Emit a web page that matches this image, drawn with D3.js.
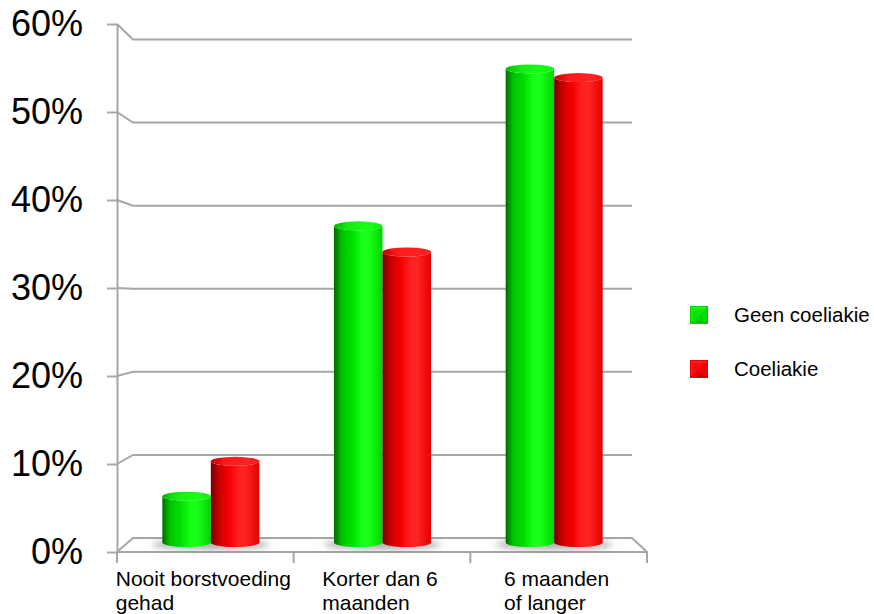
<!DOCTYPE html>
<html>
<head>
<meta charset="utf-8">
<script src="https://cdn.jsdelivr.net/npm/d3@7"></script>
<style>
  html, body { margin: 0; padding: 0; background: #fff; }
  svg { display: block; font-family: "Liberation Sans", Arial, sans-serif; }
</style>
</head>
<body>
<svg id="chart" width="874" height="614"></svg>
<script>
// Borstvoeding en coeliakie: percentage per duur van borstvoeding
const categories = ["Nooit borstvoeding\ngehad", "Korter dan 6\nmaanden", "6 maanden\nof langer"];
const seriesNames = ["Geen coeliakie", "Coeliakie"];
const geenCoeliakie = [6, 37, 55];
const coeliakie = [10, 34, 54];
const yTicks = [0, 10, 20, 30, 40, 50, 60];
const yTickLabels = ["0%", "10%", "20%", "30%", "40%", "50%", "60%"];

const seriesValues = [geenCoeliakie, coeliakie];
const palette = {
  "Geen coeliakie": { dark: "#006a00", mid: "#00c400", main: "#00e000", light: "#18ff18", edge: "#00d400", cap: "#14ec14", capDark: "#00b800" },
  "Coeliakie":      { dark: "#6e0000", mid: "#c80000", main: "#f40000", light: "#ff2222", edge: "#e40000", cap: "#ff1a1a", capDark: "#c00000" }
};

const svg = d3.select("#chart");
const defs = svg.append("defs");

// perspective: front edge, back wall and the plane the cylinders stand in
const yFront = d3.scaleLinear().domain([0, 60]).range([552, 24]);
const yBack  = d3.scaleLinear().domain([0, 60]).range([538, 39.5]);
const yBar   = d3.scaleLinear().domain([0, 60]).range([548.5, 25.3]);
const xFront = d3.scaleBand().domain(categories).range([117, 647]);
const xBar   = d3.scaleBand().domain(categories).range([125, 640]);
const barHalf = 48.5;
const xSeries = d3.scaleBand().domain(seriesNames)
  .range([xBar.bandwidth() / 2 - barHalf, xBar.bandwidth() / 2 + barHalf]);
const backLeft = 133, backRight = 632, frontLeft = 117, frontRight = 647;
const baseY = 542.5, ry = 4.5;
const gridColor = "#a6a6a6";

// gradients for cylinder bodies and caps
seriesNames.forEach((s, i) => {
  const p = palette[s];
  const g = defs.append("linearGradient").attr("id", "body" + i)
    .attr("x1", "0%").attr("x2", "100%").attr("y1", "0%").attr("y2", "0%");
  [[0, p.dark], [0.16, p.mid], [0.38, p.main], [0.58, p.light], [0.72, p.light], [1, p.edge]]
    .forEach(([o, c]) => g.append("stop").attr("offset", o).attr("stop-color", c));
  const c = defs.append("linearGradient").attr("id", "cap" + i)
    .attr("x1", "0%").attr("x2", "100%").attr("y1", "0%").attr("y2", "0%");
  [[0, p.capDark], [0.3, p.cap], [0.7, p.light], [1, p.cap]]
    .forEach(([o, col]) => c.append("stop").attr("offset", o).attr("stop-color", col));
});
defs.append("filter").attr("id", "soft").attr("x", "-50%").attr("y", "-200%")
  .attr("width", "200%").attr("height", "500%")
  .append("feGaussianBlur").attr("stdDeviation", 3);

// floor
svg.append("path")
  .attr("d", `M${frontLeft},${yFront(0)}L${backLeft},${yBack(0)}L${backRight},${yBack(0)}L${frontRight},${yFront(0)}Z`)
  .attr("fill", "#fff").attr("stroke", gridColor).attr("stroke-width", 2).attr("stroke-linejoin", "round");

// back-wall gridlines with their slanted side-wall segments
const grid = svg.append("g");
yTicks.filter(v => v > 0).forEach(v => {
  grid.append("path")
    .attr("d", `M${frontLeft},${yFront(v)}L${backLeft},${yBack(v)}L${backRight},${yBack(v)}`)
    .attr("fill", "none").attr("stroke", gridColor).attr("stroke-width", 2);
});

// category tick marks below the floor
const catBounds = categories.map(c => xFront(c)).concat([xFront.range()[1]]);
svg.append("g").selectAll("line").data(catBounds).join("line")
  .attr("x1", d => d).attr("x2", d => d)
  .attr("y1", yFront(0)).attr("y2", yFront(0) + 11)
  .attr("stroke", gridColor).attr("stroke-width", 2);

// value axis
const yAxis = d3.axisLeft(yFront).tickValues(yTicks)
  .tickFormat((d, i) => yTickLabels[i]).tickSize(10).tickSizeOuter(0).tickPadding(24);
const ax = svg.append("g").attr("transform", `translate(${frontLeft},0)`).call(yAxis);
ax.select(".domain").attr("stroke", gridColor).attr("stroke-width", 2);
ax.selectAll(".tick line").attr("stroke", gridColor).attr("stroke-width", 2);
ax.selectAll(".tick text").attr("fill", "#000").style("font-size", "36px")
  .style("font-family", "'Liberation Sans', Arial, sans-serif");

// soft floor shadows under each pair of cylinders
svg.append("g").selectAll("ellipse").data(categories).join("ellipse")
  .attr("cx", c => xBar(c) + xBar.bandwidth() / 2)
  .attr("cy", baseY + 2)
  .attr("rx", barHalf + 10).attr("ry", 5)
  .attr("fill", "#6a6a6a").attr("opacity", 0.55).attr("filter", "url(#soft)");

// cylinders
const bars = [];
categories.forEach((c, ci) => seriesNames.forEach((s, si) => {
  bars.push({ cat: c, series: s, si, value: seriesValues[si][ci] });
}));
const barG = svg.append("g").selectAll("g").data(bars).join("g");
barG.each(function (d) {
  const g = d3.select(this);
  const x0 = xBar(d.cat) + xSeries(d.series);
  const x1 = x0 + xSeries.bandwidth();
  const rx = (x1 - x0) / 2;
  const yTop = yBar(d.value);
  g.append("path")
    .attr("d", `M${x0},${yTop}L${x0},${baseY}A${rx},${ry} 0 0 0 ${x1},${baseY}L${x1},${yTop}A${rx},${ry} 0 0 1 ${x0},${yTop}Z`)
    .attr("fill", `url(#body${d.si})`);
  g.append("ellipse")
    .attr("cx", x0 + rx).attr("cy", yTop).attr("rx", rx).attr("ry", ry)
    .attr("fill", `url(#cap${d.si})`);
});

// category labels (two lines, left aligned in a centred block)
const catLabels = svg.append("g").style("font-size", "21px").attr("fill", "#000");
categories.forEach(c => {
  const t = catLabels.append("text").attr("y", 586);
  c.split("\n").forEach((line, li) => {
    t.append("tspan").attr("x", 0).attr("dy", li === 0 ? 0 : 24).text(line);
  });
  const w = t.node().getBBox().width;
  const left = xFront(c) + xFront.bandwidth() / 2 - w / 2 - 2;
  t.selectAll("tspan").attr("x", left);
});

// legend
const legend = svg.append("g").attr("transform", "translate(690,306)");
seriesNames.forEach((s, i) => {
  const p = palette[s];
  const g = legend.append("g").attr("transform", `translate(0,${i * 54})`);
  const sz = 18, m = sz / 2;
  g.append("rect").attr("width", sz).attr("height", sz).attr("fill", p.main);
  const tri = [
    [[0, 0], [sz, 0], [m, m], p.light],
    [[sz, 0], [sz, sz], [m, m], p.main],
    [[0, sz], [sz, sz], [m, m], p.mid],
    [[0, 0], [0, sz], [m, m], p.cap]
  ];
  tri.forEach(([a, b, cc, col]) => {
    g.append("path").attr("d", `M${a}L${b}L${cc}Z`).attr("fill", col);
  });
  g.append("rect").attr("x", 2.5).attr("y", 2.5).attr("width", sz - 5).attr("height", sz - 5)
    .attr("fill", p.main).attr("opacity", 0.6);
  g.append("rect").attr("x", 0.5).attr("y", 0.5).attr("width", sz - 1).attr("height", sz - 1)
    .attr("fill", "none").attr("stroke", p.edge).attr("stroke-width", 1);
  g.append("text").attr("x", 44).attr("y", m).attr("dy", "0.35em")
    .style("font-size", "20.5px").attr("fill", "#000").text(s);
});
</script>
</body>
</html>
